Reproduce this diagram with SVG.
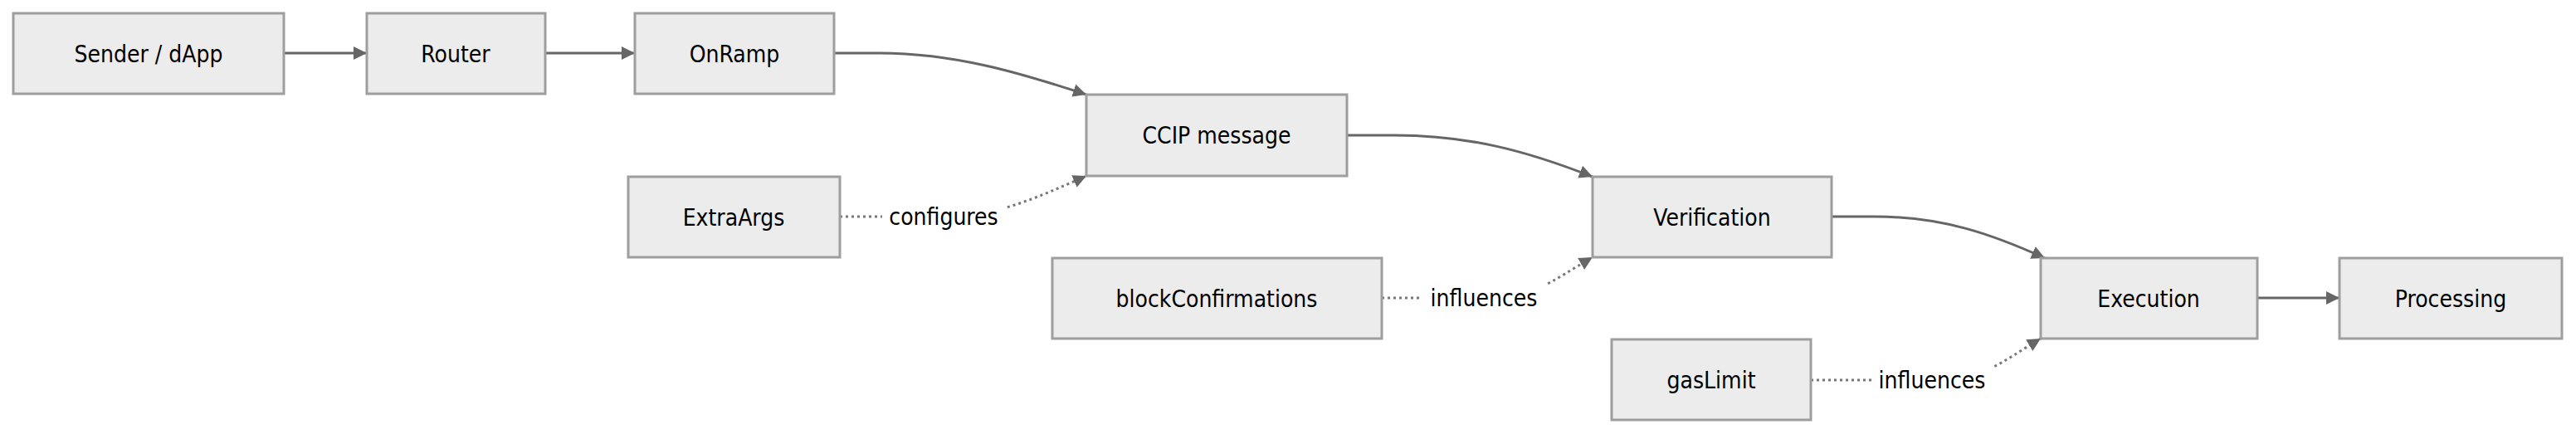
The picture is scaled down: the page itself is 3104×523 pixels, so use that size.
<svg xmlns="http://www.w3.org/2000/svg" width="3104" height="523" viewBox="0 0 3104 523">
<style>
.n rect{fill:#ececec;stroke:#9e9e9e;stroke-width:3}
text{font-family:"DejaVu Sans Condensed","DejaVu Sans",sans-serif;font-size:28px;fill:#000;text-anchor:middle;dominant-baseline:central}
.e{fill:none;stroke:#666;stroke-width:3}
.d{fill:none;stroke:#777;stroke-width:3;stroke-dasharray:3 4}
.lb{fill:#fff}
</style>
<defs><marker id="a" viewBox="0 0 10 10" refX="10" refY="5" markerWidth="16" markerHeight="16" markerUnits="userSpaceOnUse" orient="auto"><path d="M0,0L10,5L0,10z" fill="#666"/></marker></defs>
<rect width="3104" height="523" fill="#fff"/>
<g id="edges">
<path class="e" d="M342,64H442" marker-end="url(#a)"/>
<path class="e" d="M657,64H765" marker-end="url(#a)"/>
<path class="e" d="M1005,64H1060C1150,64 1230,88 1309,114" marker-end="url(#a)"/>
<path class="e" d="M1623,163H1680C1770,163 1840,182 1919,213" marker-end="url(#a)"/>
<path class="e" d="M2207,261H2260C2340,261 2400,282 2464,311" marker-end="url(#a)"/>
<path class="e" d="M2720,359H2819" marker-end="url(#a)"/>
<path class="d" d="M1012,261H1140C1200,261 1250,238 1309,212" marker-end="url(#a)"/>
<path class="d" d="M1665,359H1790C1850,359 1870,338 1919,310" marker-end="url(#a)"/>
<path class="d" d="M2182,458H2330C2390,458 2410,437 2459,408" marker-end="url(#a)"/>
<rect class="lb" x="1063" y="243" width="148" height="36"/><text x="1137" y="261">configures</text>
<rect class="lb" x="1714" y="341" width="148" height="36"/><text x="1788" y="359">influences</text>
<rect class="lb" x="2255" y="440" width="146" height="36"/><text x="2328" y="458">influences</text>
</g>
<g id="sender" class="n"><rect x="16" y="16" width="326" height="97"/><text x="179" y="65">Sender / dApp</text></g>
<g id="router" class="n"><rect x="442" y="16" width="215" height="97"/><text x="549" y="65">Router</text></g>
<g id="onramp" class="n"><rect x="765" y="16" width="240" height="97"/><text x="885" y="65">OnRamp</text></g>
<g id="ccip" class="n"><rect x="1309" y="114" width="314" height="98"/><text x="1466" y="163">CCIP message</text></g>
<g id="extraargs" class="n"><rect x="757" y="213" width="255" height="97"/><text x="884" y="262">ExtraArgs</text></g>
<g id="verification" class="n"><rect x="1919" y="213" width="288" height="97"/><text x="2063" y="262">Verification</text></g>
<g id="blockconf" class="n"><rect x="1268" y="311" width="397" height="97"/><text x="1466" y="360">blockConfirmations</text></g>
<g id="execution" class="n"><rect x="2459" y="311" width="261" height="97"/><text x="2589" y="360">Execution</text></g>
<g id="processing" class="n"><rect x="2819" y="311" width="268" height="97"/><text x="2953" y="360">Processing</text></g>
<g id="gaslimit" class="n"><rect x="1942" y="409" width="240" height="97"/><text x="2062" y="458">gasLimit</text></g>
</svg>
